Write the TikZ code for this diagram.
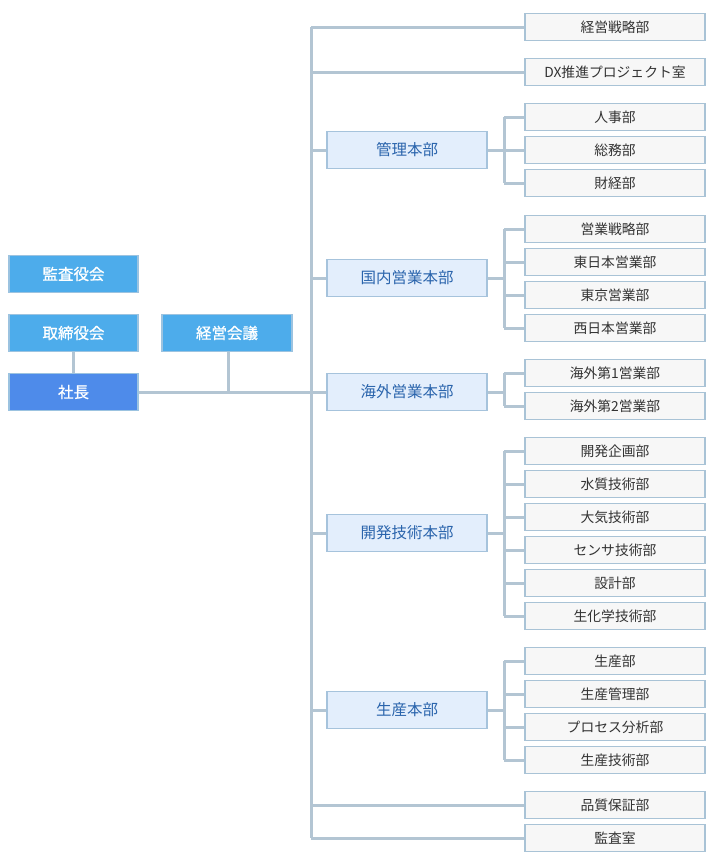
\documentclass[tikz,border=0pt]{standalone}
\usepackage{fontspec}
\setmainfont{Noto Sans CJK JP}
\newfontfamily\medfont[FakeBold=0.8]{Noto Sans CJK JP}
\definecolor{linec}{HTML}{B3C5D3}
\definecolor{topfill}{HTML}{4DACEB}
\definecolor{presfill}{HTML}{4E8BEA}
\definecolor{topborder}{HTML}{9CC3E0}
\definecolor{midfill}{HTML}{E3EEFC}
\definecolor{midborder}{HTML}{A6C3DC}
\definecolor{midtext}{HTML}{2A64AC}
\definecolor{deptfill}{HTML}{F7F7F7}
\definecolor{deptborder}{HTML}{A9C3D6}
\definecolor{depttext}{HTML}{333333}
\tikzset{
  topbox/.style={draw=topborder, fill=topfill, line width=1.5pt, minimum width=129pt, minimum height=37pt, inner sep=0pt, text=white, font=\medfont\fontsize{15.5pt}{16pt}\selectfont},
  presbox/.style={topbox, fill=presfill},
  midbox/.style={draw=midborder, fill=midfill, line width=1.5pt, minimum width=160pt, minimum height=37pt, inner sep=0pt, text=midtext, font=\fontsize{15.5pt}{16pt}\selectfont},
  deptbox/.style={draw=deptborder, fill=deptfill, line width=1.2pt, minimum width=180pt, minimum height=27pt, inner sep=0pt, text=depttext, font=\fontsize{13.8pt}{14pt}\selectfont},
  conn/.style={draw=linec, line width=3pt},
}
\begin{document}
\begin{tikzpicture}[x=1pt,y=-1pt]
\useasboundingbox (0,0) rectangle (715,865);
% main trunk coordinates
\coordinate (trTop) at (311,27);
\coordinate (trBot) at (311,838);
\coordinate (trPres) at (311,392);
\coordinate (meet) at (228,392);
\path[conn] (trTop) -- (trBot);
% left boxes
\node[topbox] (kansayaku) at (73.5,274) {監査役会};
\node[topbox] (torishimari) at (73.5,333) {取締役会};
\node[presbox] (shacho) at (73.5,392) {社長};
\node[topbox, minimum width=130pt] (keieikaigi) at (227,333) {経営会議};
\path[conn] (shacho.east) -- (trPres);
\path[conn] (torishimari.south) -- (shacho.north);
\path[conn] (keieikaigi.south -| meet) -- (meet);
% direct departments
\node[deptbox] (senryaku) at (615,27) {経営戦略部};
\node[deptbox] (dx) at (615,72) {DX推進プロジェクト室};
\node[deptbox] (hinshitsu) at (615,805) {品質保証部};
\node[deptbox] (kansashitsu) at (615,838) {監査室};
\path[conn] (senryaku.west -| trTop) -- (senryaku.west);
\path[conn] (dx.west -| trTop) -- (dx.west);
\path[conn] (hinshitsu.west -| trTop) -- (hinshitsu.west);
\path[conn] (kansashitsu.west -| trTop) -- (kansashitsu.west);
% divisions
\node[midbox] (kanri) at (407,150) {管理本部};
\node[midbox] (kokunai) at (407,278) {国内営業本部};
\node[midbox] (kaigai) at (407,392) {海外営業本部};
\node[midbox] (kaihatsu) at (407,533) {開発技術本部};
\node[midbox] (seisan) at (407,710) {生産本部};
\foreach \d in {kanri,kokunai,kaigai,kaihatsu,seisan}
  \path[conn] (\d.west -| trTop) -- (\d.west);
% departments under divisions
\node[deptbox] (jinji) at (615,117) {人事部};
\node[deptbox] (somu) at (615,150) {総務部};
\node[deptbox] (zaikei) at (615,183) {財経部};
\node[deptbox] (eigyosenryaku) at (615,229) {営業戦略部};
\node[deptbox] (higashinihon) at (615,262) {東日本営業部};
\node[deptbox] (tokyo) at (615,295) {東京営業部};
\node[deptbox] (nishinihon) at (615,328) {西日本営業部};
\node[deptbox] (kaigai1) at (615,373) {海外第1営業部};
\node[deptbox] (kaigai2) at (615,406) {海外第2営業部};
\node[deptbox] (kikaku) at (615,451) {開発企画部};
\node[deptbox] (suishitsu) at (615,484) {水質技術部};
\node[deptbox] (taiki) at (615,517) {大気技術部};
\node[deptbox] (sensa) at (615,550) {センサ技術部};
\node[deptbox] (sekkei) at (615,583) {設計部};
\node[deptbox] (seikagaku) at (615,616) {生化学技術部};
\node[deptbox] (seisanbu) at (615,661) {生産部};
\node[deptbox] (seisankanri) at (615,694) {生産管理部};
\node[deptbox] (process) at (615,727) {プロセス分析部};
\node[deptbox] (seisangijutsu) at (615,760) {生産技術部};
\coordinate (br) at (504,0);
% brackets
\foreach \p/\first/\last/\kids in {
  kanri/jinji/zaikei/{jinji,somu,zaikei},
  kokunai/eigyosenryaku/nishinihon/{eigyosenryaku,higashinihon,tokyo,nishinihon},
  kaigai/kaigai1/kaigai2/{kaigai1,kaigai2},
  kaihatsu/kikaku/seikagaku/{kikaku,suishitsu,taiki,sensa,sekkei,seikagaku},
  seisan/seisanbu/seisangijutsu/{seisanbu,seisankanri,process,seisangijutsu}}{
  \path[conn] (\p.east) -- (\p.east -| br);
  \path[conn] (\first.west -| br) -- (\last.west -| br);
  \foreach \k in \kids \path[conn] (\k.west -| br) -- (\k.west);
}
\end{tikzpicture}
\end{document}
